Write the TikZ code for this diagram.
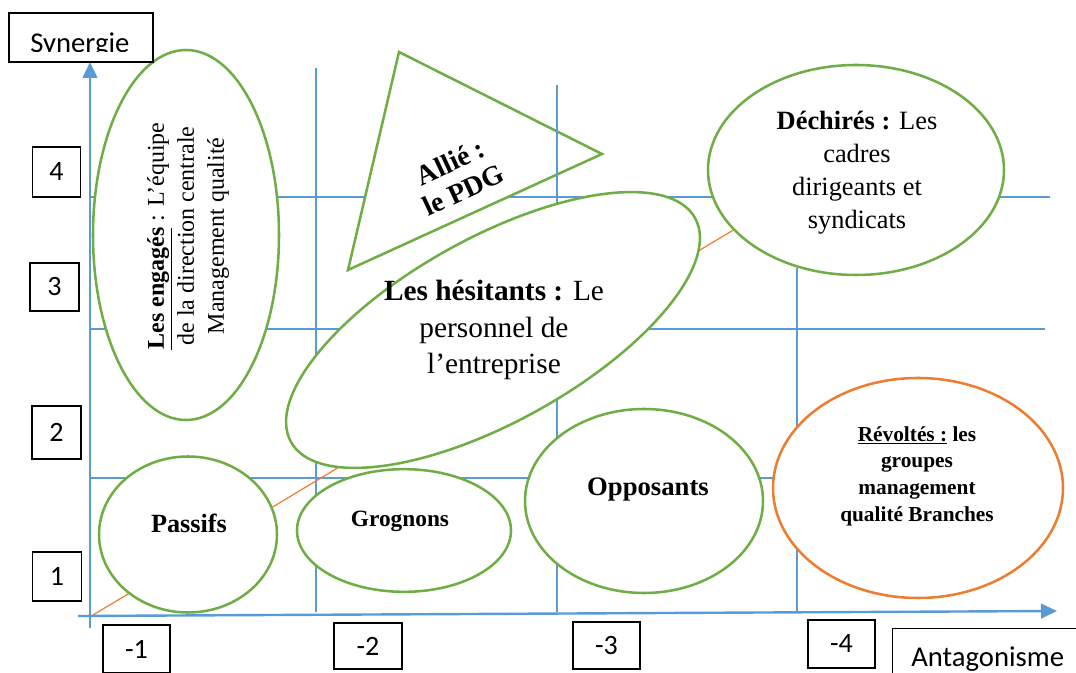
\documentclass[tikz,border=0pt]{standalone}
\usepackage{fontspec}
\setmainfont{Liberation Serif}
\setsansfont{Carlito}
\usetikzlibrary{shapes.geometric,arrows.meta}
\definecolor{gridblue}{HTML}{5B9BD5}
\definecolor{leafgreen}{HTML}{70AD47}
\definecolor{warnorange}{HTML}{ED7D31}
\begin{document}
\begin{tikzpicture}[x=0.75pt,y=-0.75pt,
  gridline/.style={draw=gridblue,line width=0.9pt},
  axisline/.style={draw=gridblue,line width=1.8pt,-{Triangle[width=11pt,length=12pt]}},
  trendline/.style={draw=warnorange,line width=0.9pt},
  blob/.style={ellipse,draw=leafgreen,fill=white,line width=1.9pt,inner sep=0pt},
  hotblob/.style={blob,draw=warnorange},
  lblbox/.style={draw=black,line width=1pt,inner sep=0pt,
    font=\sffamily\fontsize{21}{21}\selectfont},
  blobtext/.style={align=center,inner sep=0pt}]
\useasboundingbox (0,0) rectangle (1076,673);

% horizontal grid lines
\coordinate (h1a) at (90,197);  \coordinate (h1b) at (1050,197);
\coordinate (h2a) at (90,329);  \coordinate (h2b) at (1045,329);
\coordinate (h3a) at (90,478);  \coordinate (h3b) at (797,478);
\draw[gridline] (h1a) -- (h1b);
\draw[gridline] (h2a) -- (h2b);
\draw[gridline] (h3a) -- (h3b);

% triangle of the ally
\coordinate (ta) at (399,52);
\coordinate (tb) at (602,154);
\coordinate (tc) at (348,270);
\filldraw[fill=white,draw=leafgreen,line width=1.9pt,line join=miter] (ta) -- (tb) -- (tc) -- cycle;
\node[blobtext,rotate=25,font=\bfseries\fontsize{21}{23}\selectfont] (allytxt) at (457,176) {Allié :\\le PDG};

% vertical grid lines
\coordinate (v1a) at (316,68);  \coordinate (v1b) at (316,612);
\coordinate (v2a) at (557,85);  \coordinate (v2b) at (557,612);
\coordinate (v3a) at (797,268); \coordinate (v3b) at (797,612);
\draw[gridline] (v1a) -- (v1b);
\draw[gridline] (v2a) -- (v2b);
\draw[gridline] (v3a) -- (v3b);

% diagonal trend
\coordinate (o1) at (93,615);
\coordinate (o2) at (735,229);
\draw[trendline] (o1) -- (o2);

% groups
\node[blob,minimum width=139.5pt,minimum height=277.5pt] (engages) at (186,235) {};
\node[blobtext,rotate=90,font=\fontsize{18}{22.5}\selectfont] (engtxt) at (188,236)
  {\underline{\textbf{Les engagés}} : L’équipe\\de la direction centrale\\Management qualité};

\node[blob,rotate=29,minimum width=346.5pt,minimum height=138pt] (hesitants) at (493,330) {};
\node[blobtext,font=\fontsize{22}{27.5}\selectfont] (hestxt) at (494,330)
  {\textbf{Les hésitants :} Le\\personnel de\\l’entreprise};

\node[blob,minimum width=222pt,minimum height=157.5pt] (dechires) at (856,170) {};
\node[blobtext,font=\fontsize{19.8}{24.75}\selectfont] (dectxt) at (857,173)
  {\textbf{Déchirés :} Les\\cadres\\dirigeants et\\syndicats};

\node[blob,minimum width=133.5pt,minimum height=117pt] (passifs) at (188,534.5) {};
\node[blobtext,font=\bfseries\fontsize{19.7}{20}\selectfont] (pastxt) at (189,523) {Passifs};

\node[blob,minimum width=160.5pt,minimum height=92pt] (grognons) at (404,530.5) {};
\node[blobtext,font=\bfseries\fontsize{17.5}{18}\selectfont] (grotxt) at (400,521) {Grognons};

\node[blob,minimum width=178.5pt,minimum height=138pt] (opposants) at (644,501) {};
\node[blobtext,font=\bfseries\fontsize{20}{22}\selectfont] (opptxt) at (648,490) {Opposants};

\node[hotblob,minimum width=217.5pt,minimum height=165pt] (revoltes) at (918,488) {};
\node[blobtext,font=\bfseries\fontsize{16}{20}\selectfont] (revtxt) at (917,476)
  {\underline{Révoltés :} les\\groupes\\management\\qualité Branches};

% axes
\coordinate (xa) at (78,616);  \coordinate (xb) at (1057,611);
\coordinate (ya) at (90,628);  \coordinate (yb) at (90,62);
\draw[axisline] (xa) -- (xb);
\draw[axisline] (ya) -- (yb);

% axis titles
\node[draw=black,line width=1pt,inner sep=0pt,minimum width=108pt,minimum height=36.75pt] (synbox) at (81,37.5) {};
\begin{scope}
  \clip (10,14) rectangle (152,52);
  \node[anchor=base west,inner sep=0pt,font=\sffamily\fontsize{21.5}{21.5}\selectfont] (syntxt) at (30,53) {Synergie};
\end{scope}
\node[draw=black,line width=1pt,inner sep=0pt,anchor=north west,minimum width=200pt,minimum height=60pt] (antbox) at (892,628) {};
\node[anchor=base west,inner sep=0pt,font=\sffamily\fontsize{21.5}{21.5}\selectfont] (anttxt) at (911,667) {Antagonisme};

% scale labels
\node[lblbox,minimum width=36pt,minimum height=37.5pt] (s4) at (56.5,172) {4};
\node[lblbox,minimum width=36.75pt,minimum height=36pt] (s3) at (54.5,287) {3};
\node[lblbox,minimum width=36.75pt,minimum height=39.75pt] (s2) at (56.5,432.5) {2};
\node[lblbox,minimum width=36.75pt,minimum height=36.75pt] (s1) at (57,576.5) {1};
\node[lblbox,minimum width=50.25pt,minimum height=36pt] (a1) at (136.5,649) {-1};
\node[lblbox,minimum width=51pt,minimum height=34.5pt] (a2) at (368,646) {-2};
\node[lblbox,minimum width=50.25pt,minimum height=35.25pt] (a3) at (606.5,645.5) {-3};
\node[lblbox,minimum width=50.25pt,minimum height=36pt] (a4) at (841.5,644) {-4};
\end{tikzpicture}
\end{document}
